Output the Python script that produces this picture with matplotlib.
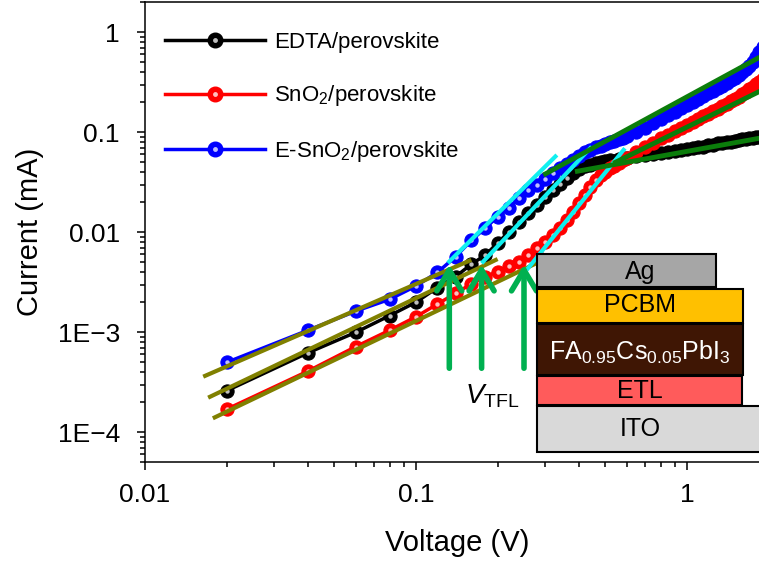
import matplotlib
matplotlib.use('Agg')
import matplotlib.pyplot as plt
from matplotlib.patches import Rectangle
from matplotlib.lines import Line2D
from matplotlib.legend_handler import HandlerTuple
from matplotlib.ticker import LogLocator, NullFormatter, FixedLocator, FixedFormatter
import numpy as np

plt.rcParams['font.family'] = ['Liberation Sans', 'DejaVu Sans']
plt.rcParams['mathtext.fontset'] = 'custom'
plt.rcParams['mathtext.rm'] = 'Liberation Sans'
plt.rcParams['mathtext.it'] = 'Liberation Sans:italic'
plt.rcParams['mathtext.bf'] = 'Liberation Sans:bold'

# ---------------- data ----------------
voltage = [0.02, 0.04, 0.06, 0.08, 0.10, 0.12, 0.14, 0.16, 0.18, 0.20,
           0.22, 0.24, 0.26, 0.28, 0.30, 0.32, 0.34, 0.36, 0.38, 0.40,
           0.42, 0.44, 0.46, 0.48, 0.50, 0.52, 0.54, 0.56, 0.58, 0.60,
           0.65, 0.70, 0.75, 0.80, 0.85, 0.90, 0.95, 1.00, 1.05, 1.10,
           1.15, 1.20, 1.25, 1.30, 1.35, 1.40, 1.45, 1.50, 1.55, 1.60,
           1.65, 1.70, 1.75, 1.80, 1.85, 1.90, 1.95, 2.00]

current_edta = [2.6e-4, 6.25e-4, 1.0e-3, 1.47e-3, 2.0e-3, 2.8e-3, 3.6e-3, 4.8e-3, 5.9e-3, 7.8e-3,
                0.0101, 0.0128, 0.0155, 0.0188, 0.0224, 0.0265, 0.0304, 0.0347, 0.0395, 0.0430,
                0.0455, 0.0475, 0.0490, 0.0505, 0.0515, 0.0530, 0.0520, 0.0545, 0.0555, 0.0550,
                0.0575, 0.0590, 0.0600, 0.0625, 0.0630, 0.0655, 0.0660, 0.0685, 0.0690, 0.0715,
                0.0720, 0.0745, 0.0750, 0.0775, 0.0780, 0.0800, 0.0805, 0.0825, 0.0830, 0.0850,
                0.0855, 0.0870, 0.0880, 0.0890, 0.0900, 0.0910, 0.0920, 0.0930]

current_sno2 = [1.7e-4, 4.1e-4, 7.2e-4, 1.05e-3, 1.43e-3, 1.92e-3, 2.45e-3, 3.05e-3, 3.6e-3, 4.05e-3,
                4.55e-3, 5.1e-3, 5.9e-3, 6.9e-3, 8.0e-3, 9.4e-3, 0.0110, 0.0133, 0.0161, 0.0195,
                0.0236, 0.0284, 0.0330, 0.0370, 0.0405, 0.0435, 0.0465, 0.0495, 0.0525, 0.0555,
                0.0630, 0.0710, 0.0790, 0.0870, 0.0950, 0.1030, 0.1110, 0.1190, 0.1270, 0.1350,
                0.1440, 0.1530, 0.1620, 0.1720, 0.1820, 0.1930, 0.2040, 0.2160, 0.2280, 0.2410,
                0.2550, 0.2700, 0.2860, 0.3030, 0.3220, 0.3420, 0.3630, 0.3850]

current_esno2 = [5.0e-4, 1.05e-3, 1.63e-3, 2.14e-3, 2.9e-3, 3.98e-3, 5.7e-3, 8.3e-3, 0.0110, 0.0143,
                 0.0174, 0.0222, 0.0262, 0.0298, 0.0345, 0.0392, 0.0435, 0.0480, 0.0530, 0.0580,
                 0.0630, 0.0670, 0.0705, 0.0735, 0.0765, 0.0795, 0.0825, 0.0855, 0.0885, 0.0915,
                 0.1000, 0.1110, 0.1230, 0.1360, 0.1480, 0.1600, 0.1730, 0.1870, 0.2010, 0.2150,
                 0.2300, 0.2450, 0.2600, 0.2760, 0.2930, 0.3110, 0.3300, 0.3500, 0.3720, 0.3970,
                 0.4300, 0.4650, 0.5100, 0.5700, 0.6400, 0.7200, 0.8000, 0.8800]

series_labels = ['EDTA/perovskite', 'SnO$_2$/perovskite', 'E-SnO$_2$/perovskite']
series_colors = ['#000000', '#FF0000', '#0000FF']
highlight_limit = [0.36, 0.46, 0.32]

# fitted lines (endpoints: voltage, current)
ohmic_v_edta, ohmic_i_edta = [0.0171, 0.20], [2.22e-4, 5.4e-3]
ohmic_v_sno2, ohmic_i_sno2 = [0.0178, 0.28], [1.38e-4, 4.95e-3]
ohmic_v_esno2, ohmic_i_esno2 = [0.0164, 0.16], [3.6e-4, 5.3e-3]

tfl_v_edta, tfl_i_edta = [0.1746, 0.4447], [4.9e-3, 0.0718]
tfl_v_sno2, tfl_i_sno2 = [0.256, 0.590], [4.2e-3, 0.0692]
tfl_v_esno2, tfl_i_esno2 = [0.131, 0.331], [4.93e-3, 0.0593]

child_v_edta, child_i_edta = [0.386, 2.0], [0.0404, 0.0906]
child_v_sno2, child_i_sno2 = [0.535, 2.0], [0.049, 0.284]
child_v_esno2, child_i_esno2 = [0.295, 2.0], [0.0374, 0.63]

vtfl_voltage = [0.1327, 0.1746, 0.2503]
arrow_base_current = 4.37e-4
arrow_tip_current = 4.75e-3

# ---------------- figure ----------------
W, H = 759, 562
fig = plt.figure(figsize=(W / 100, H / 100), dpi=100)
ax = fig.add_axes([145 / W, (H - 462.4) / H, 623.6 / W, 460.2 / H])
ax.set_xscale('log')
ax.set_yscale('log')
ax.set_xlim(0.01, 2.0)
ax.set_ylim(5e-5, 2.0)

V = np.array(voltage)
for k, (cur, col, lim) in enumerate(zip([current_edta, current_sno2, current_esno2],
                                        series_colors, highlight_limit)):
    I = np.array(cur)
    ax.plot(V, I, '-o', color=col, lw=2.5, ms=9.5, mec=col, mew=0.8, zorder=2 + k)
    m = V <= lim
    ax.plot(V[m], I[m], 'o', ls='none', color='white', alpha=0.75, ms=3.2, mew=0, zorder=2.5 + k)

olive = '#808000'
cyan = '#10F0F0'
dgreen = '#0B7D0B'
for vv, ii in [(ohmic_v_edta, ohmic_i_edta), (ohmic_v_sno2, ohmic_i_sno2), (ohmic_v_esno2, ohmic_i_esno2)]:
    ax.plot(vv, ii, color=olive, lw=3, solid_capstyle='butt', zorder=6)
for vv, ii in [(tfl_v_edta, tfl_i_edta), (tfl_v_sno2, tfl_i_sno2), (tfl_v_esno2, tfl_i_esno2)]:
    ax.plot(vv, ii, color=cyan, lw=3, solid_capstyle='butt', zorder=6)
for vv, ii in [(child_v_edta, child_i_edta), (child_v_sno2, child_i_sno2), (child_v_esno2, child_i_esno2)]:
    ax.plot(vv, ii, color=dgreen, lw=3.5, solid_capstyle='butt', zorder=6)

for v in vtfl_voltage:
    ax.annotate('', xy=(v, arrow_tip_current), xytext=(v, arrow_base_current),
                arrowprops=dict(arrowstyle='->,head_length=0.75,head_width=0.45',
                                color='#00B050', lw=4, shrinkA=0, shrinkB=0,
                                mutation_scale=20),
                zorder=8)

ax.text(0.191, 2.3e-4, r'$V_{\mathrm{TFL}}$', fontsize=20, ha='center', va='center', zorder=8)

# axes styling
ax.xaxis.set_major_locator(FixedLocator([0.01, 0.1, 1]))
ax.xaxis.set_major_formatter(FixedFormatter(['0.01', '0.1', '1']))
ax.xaxis.set_minor_locator(LogLocator(base=10, subs=np.arange(2, 10)))
ax.xaxis.set_minor_formatter(NullFormatter())
ax.yaxis.set_major_locator(FixedLocator([1e-4, 1e-3, 1e-2, 1e-1, 1]))
ax.yaxis.set_major_formatter(FixedFormatter(['1E\u22124', '1E\u22123', '0.01', '0.1', '1']))
ax.yaxis.set_minor_locator(LogLocator(base=10, subs=np.arange(2, 10), numticks=20))
ax.yaxis.set_minor_formatter(NullFormatter())
ax.tick_params(which='both', direction='out', top=False, right=False, width=1.1)
ax.tick_params(which='major', length=6, labelsize=19)
ax.tick_params(which='minor', length=3.5)
ax.tick_params(axis='y', which='major', pad=12)
ax.tick_params(axis='x', which='major', pad=9)
for s in ax.spines.values():
    s.set_linewidth(1.1)
ax.set_xlabel('Voltage (V)', fontsize=21, labelpad=16)
ax.set_ylabel('Current (mA)', fontsize=21, labelpad=10)

# legend
handles = []
for col in series_colors:
    h1 = Line2D([], [], color=col, lw=2.5, marker='o', ms=10.5, mec=col)
    h2 = Line2D([], [], ls='none', marker='o', ms=3.5, color='white', alpha=0.75, mew=0)
    handles.append((h1, h2))
ax.legend(handles, series_labels, loc='upper left', bbox_to_anchor=(0.032, 0.936),
          frameon=False, fontsize=16, handlelength=4.5, handletextpad=0.4,
          labelspacing=1.38, borderpad=0, borderaxespad=0,
          handler_map={tuple: HandlerTuple(ndivide=1)})

# device stack inset (figure pixel coordinates)
def add_layer(x0, y0, x1, y1, fc):
    fig.add_artist(Rectangle((x0 / W, 1 - y1 / H), (x1 - x0) / W, (y1 - y0) / H,
                             transform=fig.transFigure, facecolor=fc, edgecolor='black',
                             lw=1.5, zorder=10))

layers = [
    (537, 254, 716, 287, '#A6A6A6', 'Ag', 'black', 271.5),
    (537, 289, 743, 323, '#FFC000', 'PCBM', 'black', 305.5),
    (537, 324, 743, 375, '#3F1604', r'FA$_{0.95}$Cs$_{0.05}$PbI$_3$', 'white', 352),
    (537, 376, 742, 405, '#FF5B5B', 'ETL', 'black', 390.5),
    (537, 406, 775, 452, '#D9D9D9', 'ITO', 'black', 428.5),
]
for x0, y0, x1, y1, fc, txt, tc, ty in layers:
    add_layer(x0, y0, x1, y1, fc)
    fig.text(640 / W, 1 - ty / H, txt, fontsize=18, color=tc, ha='center', va='center', zorder=11)

fig.savefig('out.png', dpi=100)
